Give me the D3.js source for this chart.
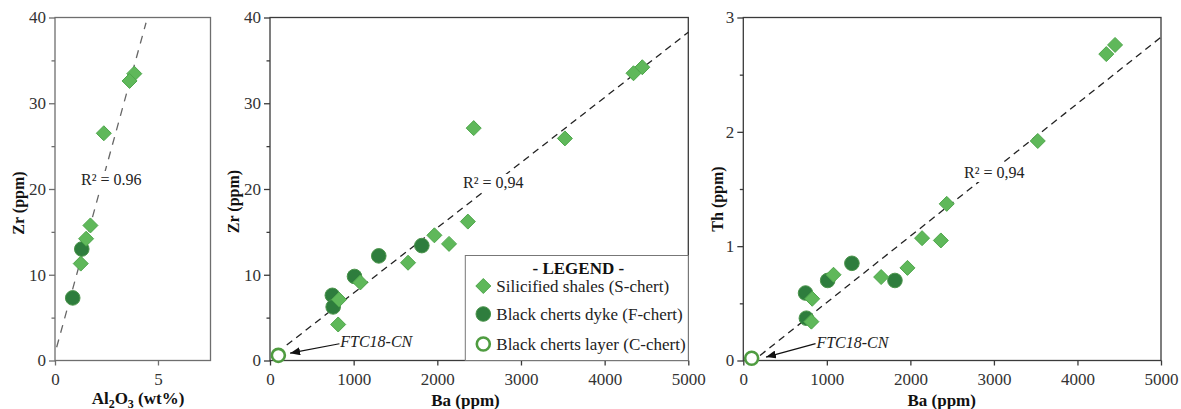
<!DOCTYPE html>
<html>
<head>
<meta charset="utf-8">
<script src="https://cdn.jsdelivr.net/npm/d3@7/dist/d3.min.js"></script>
<style>
  html, body { margin: 0; padding: 0; background: #fff; }
  svg { display: block; }
  svg text { font-family: "Liberation Serif", "Times New Roman", Times, Tinos, "Noto Serif", "DejaVu Serif", FreeSerif, serif; }
</style>
</head>
<body>
<svg id="chart" width="1181" height="409"></svg>
<script>
// ---------------- DATA ----------------
// Silicified shales (S-chert)
const sBa = [4450, 4345, 3525, 2435, 2365, 2140, 1965, 1650, 1080, 825, 815];
const sZr = [34.2, 33.5, 25.9, 27.1, 16.2, 13.6, 14.6, 11.4, 9.1, 7.1, 4.2];
const sTh = [2.76, 2.68, 1.92, 1.37, 1.05, 1.07, 0.81, 0.73, 0.75, 0.54, 0.34];
// Black cherts dyke (F-chert)
const fBa = [1815, 1300, 1010, 745, 755];
const fZr = [13.4, 12.2, 9.8, 7.6, 6.25];
const fTh = [0.70, 0.85, 0.70, 0.59, 0.37];
// Black cherts layer (C-chert)
const cBa = [100];
const cZr = [0.6];
const cTh = [0.02];
// Al2O3 vs Zr panel
const sAl = [3.85, 3.62, 2.37, 1.72, 1.51, 1.25];
const sAlZr = [33.45, 32.6, 26.5, 15.75, 14.2, 11.3];
const fAl = [0.86, 1.30];
const fAlZr = [7.3, 13.0];

// Trend lines [x0, x1, slope, intercept]
const fitAlZr = [0.08, 4.42, 8.72, 0.85];
const fitBaZr = [200, 5000, 0.0076, 0.28];
const fitBaTh = [200, 5000, 0.00058, -0.072];

// Ticks
const ticksAl = [0, 5];
const ticksBa = [0, 1000, 2000, 3000, 4000, 5000];
const ticksZr = [0, 10, 20, 30, 40];
const minorZr = [5, 15, 25, 35];
const ticksTh = [0, 1, 2, 3];
const minorTh = [0.5, 1.5, 2.5];

const legendLabels = ["Silicified shales (S-chert)", "Black cherts dyke (F-chert)", "Black cherts layer (C-chert)"];

// ---------------- STYLE ----------------
const C_S = "#5fb85a", C_S_STROKE = "#4ea64b";
const C_F = "#2e7d3d", C_F_STROKE = "#4a944a";
const C_C = "#4f9c40";

const svg = d3.select("#chart");
const zip = (a, b) => a.map((v, i) => [v, b[i]]);
const diamond = "M0,-7.5L7.5,0L0,7.5L-7.5,0Z";

svg.append("defs").append("marker")
  .attr("id", "arrow").attr("viewBox", "0 0 10 8")
  .attr("refX", 10).attr("refY", 4)
  .attr("markerWidth", 10).attr("markerHeight", 8)
  .attr("markerUnits", "userSpaceOnUse")
  .attr("orient", "auto")
  .append("path").attr("d", "M0,0L10,4L0,8Z").attr("fill", "#111");

function makePanel(cfg) {
  const x = d3.scaleLinear().domain(cfg.xDomain).range([cfg.left, cfg.right]);
  const y = d3.scaleLinear().domain(cfg.yDomain).range([cfg.bottom, cfg.top]);
  const g = svg.append("g");

  const xa = g.append("g").attr("transform", `translate(0,${cfg.bottom})`)
    .call(d3.axisBottom(x).tickValues(cfg.xTicks).tickSize(5).tickSizeOuter(0).tickPadding(7).tickFormat(d3.format("d")));
  const ya = g.append("g").attr("transform", `translate(${cfg.left},0)`)
    .call(d3.axisLeft(y).tickValues(cfg.yTicks).tickSize(6).tickSizeOuter(0).tickPadding(3).tickFormat(d3.format("d")));
  const ym = g.append("g").attr("transform", `translate(${cfg.left},0)`)
    .call(d3.axisLeft(y).tickValues(cfg.yMinor).tickSize(3.5).tickSizeOuter(0).tickFormat(""));
  [xa, ya, ym].forEach(a => {
    a.attr("font-family", null).attr("font-size", 17);
    a.select(".domain").remove();
    a.selectAll("line").attr("stroke", cfg.axisColor).attr("stroke-width", 1.3);
    a.selectAll("text").attr("font-size", 17).attr("fill", "#333");
  });

  g.append("rect")
    .attr("x", cfg.left).attr("y", cfg.top)
    .attr("width", cfg.right - cfg.left).attr("height", cfg.bottom - cfg.top)
    .attr("fill", "none").attr("stroke", cfg.axisColor).attr("stroke-width", 1.3);

  const [fx0, fx1, m, b] = cfg.fit;
  g.append("line")
    .attr("x1", x(fx0)).attr("y1", y(m * fx0 + b))
    .attr("x2", x(fx1)).attr("y2", y(m * fx1 + b))
    .attr("stroke", cfg.fitColor).attr("stroke-width", 1.3)
    .attr("stroke-dasharray", cfg.fitDash);

  g.append("rect")
    .attr("x", cfg.r2.x - 3).attr("y", cfg.r2.y - 14)
    .attr("width", cfg.r2.w).attr("height", 18)
    .attr("fill", "#fff");
  g.append("text")
    .attr("x", cfg.r2.x).attr("y", cfg.r2.y)
    .attr("font-size", 16).attr("fill", "#222")
    .text(cfg.r2.text);

  const xt = g.append("text")
    .attr("x", cfg.xTitle.x).attr("y", cfg.xTitle.y)
    .attr("text-anchor", "middle")
    .attr("font-size", 17).attr("font-weight", "bold").attr("fill", "#111");
  cfg.xTitle.parts.forEach(p => {
    const ts = xt.append("tspan").text(p.t);
    if (p.sub) ts.attr("font-size", 12).attr("dy", 4);
    else if (p.after) ts.attr("dy", -4);
  });
  g.append("text")
    .attr("transform", `translate(${cfg.yTitle.x},${cfg.yTitle.y}) rotate(-90)`)
    .attr("text-anchor", "middle")
    .attr("font-size", 16).attr("font-weight", "bold").attr("fill", "#111")
    .text(cfg.yTitle.text);

  g.selectAll(".f").data(cfg.fPts).join("circle")
    .attr("cx", d => x(d[0])).attr("cy", d => y(d[1])).attr("r", 7.3)
    .attr("fill", C_F).attr("stroke", C_F_STROKE).attr("stroke-width", 1);
  g.selectAll(".c").data(cfg.cPts).join("circle")
    .attr("cx", d => x(d[0])).attr("cy", d => y(d[1])).attr("r", 6.5)
    .attr("fill", "#fff").attr("stroke", C_C).attr("stroke-width", 2.6);
  g.selectAll(".s").data(cfg.sPts).join("path")
    .attr("d", diamond)
    .attr("transform", d => `translate(${x(d[0])},${y(d[1])})`)
    .attr("fill", C_S).attr("stroke", C_S_STROKE).attr("stroke-width", 1);

  if (cfg.note) {
    const n = cfg.note;
    g.append("line")
      .attr("x1", x(n.from[0])).attr("y1", y(n.from[1]))
      .attr("x2", x(n.to[0])).attr("y2", y(n.to[1]))
      .attr("stroke", "#111").attr("stroke-width", 1.2)
      .attr("marker-end", "url(#arrow)");
    g.append("text")
      .attr("x", x(n.text[0])).attr("y", y(n.text[1]))
      .attr("font-size", 16).attr("font-style", "italic").attr("fill", "#222")
      .text("FTC18-CN");
  }
  return { x, y, g, cfg };
}

// Panel 1: Al2O3 vs Zr
makePanel({
  left: 55, right: 210.5, top: 17.5, bottom: 360.5,
  xDomain: [0, 7.55], yDomain: [0, 40],
  xTicks: ticksAl, yTicks: ticksZr, yMinor: minorZr,
  axisColor: "#6e6e6e",
  fit: fitAlZr, fitColor: "#666", fitDash: "8,7",
  r2: { x: 81, y: 185, w: 64, text: "R\u00B2 = 0.96" },
  xTitle: { x: 138, y: 403.5, parts: [{ t: "Al" }, { t: "2", sub: true }, { t: "O", after: true }, { t: "3", sub: true }, { t: " (wt%)", after: true }] },
  yTitle: { x: 24, y: 203, text: "Zr (ppm)" },
  sPts: zip(sAl, sAlZr), fPts: zip(fAl, fAlZr), cPts: []
});

// Panel 2: Ba vs Zr
const p2 = makePanel({
  left: 270, right: 688.3, top: 17.5, bottom: 360.5,
  xDomain: [0, 5000], yDomain: [0, 40],
  xTicks: ticksBa, yTicks: ticksZr, yMinor: minorZr,
  axisColor: "#3a3a3a",
  fit: fitBaZr, fitColor: "#222", fitDash: "7,5",
  r2: { x: 463, y: 188, w: 67, text: "R\u00B2 = 0,94" },
  xTitle: { x: 465.5, y: 405.5, parts: [{ t: "Ba (ppm)" }] },
  yTitle: { x: 239, y: 201.5, text: "Zr (ppm)" },
  sPts: zip(sBa, sZr), fPts: zip(fBa, fZr), cPts: zip(cBa, cZr),
  note: { from: [830, 1.95], to: [240, 0.86], text: [840, 1.55] }
});

// Panel 3: Ba vs Th
makePanel({
  left: 743.3, right: 1161, top: 17.5, bottom: 360.5,
  xDomain: [0, 5000], yDomain: [0, 3],
  xTicks: ticksBa, yTicks: ticksTh, yMinor: minorTh,
  axisColor: "#3a3a3a",
  fit: fitBaTh, fitColor: "#222", fitDash: "7,5",
  r2: { x: 964, y: 178, w: 67, text: "R\u00B2 = 0,94" },
  xTitle: { x: 941.7, y: 405.5, parts: [{ t: "Ba (ppm)" }] },
  yTitle: { x: 723, y: 199, text: "Th (ppm)" },
  sPts: zip(sBa, sTh), fPts: zip(fBa, fTh), cPts: zip(cBa, cTh),
  note: { from: [865, 0.147], to: [272, 0.03], text: [875, 0.105] }
});

// Legend in panel 2
(function () {
  const c = p2.cfg;
  const lx = c.right - 223, ly = c.bottom - 105;
  const lg = p2.g.append("g");
  lg.append("rect").attr("x", lx).attr("y", ly)
    .attr("width", c.right - lx).attr("height", c.bottom - ly)
    .attr("fill", "#fff").attr("stroke", "#777").attr("stroke-width", 1);
  lg.append("text").attr("x", lx + 113).attr("y", ly + 18.5)
    .attr("text-anchor", "middle")
    .attr("font-size", 17).attr("font-weight", "bold").attr("fill", "#111")
    .text("- LEGEND -");
  const rows = [30.5, 58.5, 88.5];
  rows.forEach((dy, i) => {
    const cy = ly + dy, cx = lx + 18;
    if (i === 0) lg.append("path").attr("d", diamond).attr("transform", `translate(${cx},${cy})`)
      .attr("fill", C_S).attr("stroke", C_S_STROKE);
    if (i === 1) lg.append("circle").attr("cx", cx).attr("cy", cy).attr("r", 7.3)
      .attr("fill", C_F).attr("stroke", C_F_STROKE);
    if (i === 2) lg.append("circle").attr("cx", cx).attr("cy", cy).attr("r", 6.5)
      .attr("fill", "#fff").attr("stroke", C_C).attr("stroke-width", 2.6);
    lg.append("text").attr("x", lx + 31).attr("y", cy).attr("dy", "0.33em")
      .attr("font-size", 17).attr("fill", "#222")
      .text(legendLabels[i]);
  });
})();
</script>
</body>
</html>
